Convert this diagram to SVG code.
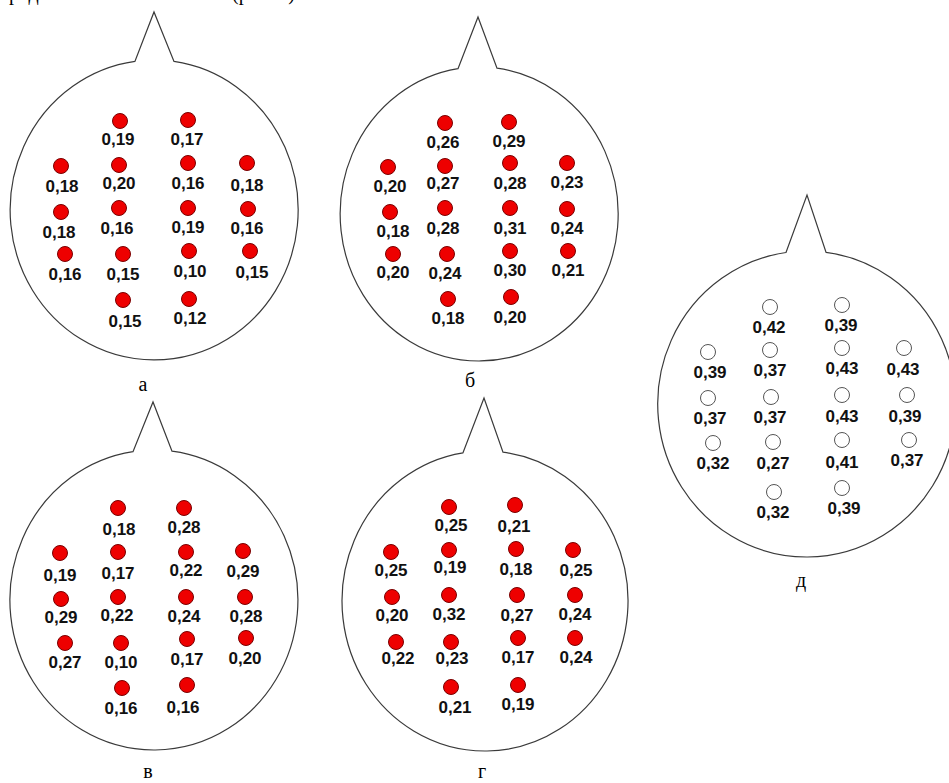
<svg xmlns="http://www.w3.org/2000/svg" width="949" height="783" viewBox="0 0 949 783">
<style>
  .head{fill:#fff;stroke:#3a3a3a;stroke-width:1.2;stroke-linejoin:miter}
  .e{fill:#ee0000;stroke:#7a0000;stroke-width:1}
  .eo{fill:#fff;stroke:#555;stroke-width:1}
  .v{font-family:"Liberation Sans",Arial,sans-serif;font-size:17px;font-weight:bold;fill:#111;text-anchor:middle}
  .cap{font-family:"Liberation Serif","Times New Roman",serif;font-size:20px;fill:#000;text-anchor:middle}
  .top{font-family:"Liberation Serif","Times New Roman",serif;font-size:20px;fill:#000}
</style>
<rect width="949" height="783" fill="#fff"/>

<!-- caption line running off the top edge -->
<text class="top" x="9" y="0">родолжение</text>
<text class="top" x="232" y="0">(рис. 6)</text>

<!-- head а -->
<g id="head-a">
  <path class="head" d="M135 61.3 A144 150 0 1 0 174 61.4 L154 12 Z"/>
  <circle class="e" cx="120" cy="121" r="7.5"/><text class="v" x="118" y="145">0,19</text>
  <circle class="e" cx="188" cy="120" r="7.5"/><text class="v" x="187" y="145">0,17</text>
  <circle class="e" cx="61" cy="166" r="7.5"/><text class="v" x="62" y="192">0,18</text>
  <circle class="e" cx="119" cy="165" r="7.5"/><text class="v" x="119" y="189">0,20</text>
  <circle class="e" cx="188" cy="163" r="7.5"/><text class="v" x="188" y="189">0,16</text>
  <circle class="e" cx="247" cy="163" r="7.5"/><text class="v" x="247" y="191">0,18</text>
  <circle class="e" cx="61" cy="212" r="7.5"/><text class="v" x="59" y="238">0,18</text>
  <circle class="e" cx="119" cy="208" r="7.5"/><text class="v" x="117" y="234">0,16</text>
  <circle class="e" cx="188" cy="208" r="7.5"/><text class="v" x="188" y="233">0,19</text>
  <circle class="e" cx="248" cy="209" r="7.5"/><text class="v" x="247" y="234">0,16</text>
  <circle class="e" cx="65" cy="254" r="7.5"/><text class="v" x="65" y="280">0,16</text>
  <circle class="e" cx="123" cy="254" r="7.5"/><text class="v" x="123" y="280">0,15</text>
  <circle class="e" cx="189" cy="251" r="7.5"/><text class="v" x="190" y="277">0,10</text>
  <circle class="e" cx="250" cy="251" r="7.5"/><text class="v" x="252" y="278">0,15</text>
  <circle class="e" cx="123" cy="300" r="7.5"/><text class="v" x="125" y="327">0,15</text>
  <circle class="e" cx="189" cy="299" r="7.5"/><text class="v" x="190" y="324">0,12</text>
  <text class="cap" x="143" y="391">а</text>
</g>

<!-- head б -->
<g id="head-b">
  <path class="head" d="M458 68.7 A139 147 0 1 0 497 68.2 L478 17 Z"/>
  <circle class="e" cx="445" cy="123" r="7.5"/><text class="v" x="443" y="148">0,26</text>
  <circle class="e" cx="509" cy="122" r="7.5"/><text class="v" x="509" y="147">0,29</text>
  <circle class="e" cx="388" cy="167" r="7.5"/><text class="v" x="390" y="192">0,20</text>
  <circle class="e" cx="445" cy="166" r="7.5"/><text class="v" x="443" y="189">0,27</text>
  <circle class="e" cx="510" cy="163" r="7.5"/><text class="v" x="510" y="189">0,28</text>
  <circle class="e" cx="567" cy="163" r="7.5"/><text class="v" x="567" y="188">0,23</text>
  <circle class="e" cx="390" cy="212" r="7.5"/><text class="v" x="393" y="237">0,18</text>
  <circle class="e" cx="445" cy="208" r="7.5"/><text class="v" x="443" y="234">0,28</text>
  <circle class="e" cx="510" cy="208" r="7.5"/><text class="v" x="510" y="234">0,31</text>
  <circle class="e" cx="567" cy="209" r="7.5"/><text class="v" x="567" y="234">0,24</text>
  <circle class="e" cx="393" cy="254" r="7.5"/><text class="v" x="393" y="278">0,20</text>
  <circle class="e" cx="447" cy="254" r="7.5"/><text class="v" x="445" y="279">0,24</text>
  <circle class="e" cx="510" cy="251" r="7.5"/><text class="v" x="510" y="276">0,30</text>
  <circle class="e" cx="568" cy="251" r="7.5"/><text class="v" x="568" y="276">0,21</text>
  <circle class="e" cx="448" cy="299" r="7.5"/><text class="v" x="448" y="324">0,18</text>
  <circle class="e" cx="511" cy="297" r="7.5"/><text class="v" x="510" y="323">0,20</text>
  <text class="cap" x="470" y="387">б</text>
</g>

<!-- head в -->
<g id="head-v">
  <path class="head" d="M133 451.6 A144 150 0 1 0 172 451.2 L153 402 Z"/>
  <circle class="e" cx="118" cy="508" r="7.5"/><text class="v" x="119" y="535">0,18</text>
  <circle class="e" cx="184" cy="508" r="7.5"/><text class="v" x="184" y="533">0,28</text>
  <circle class="e" cx="60" cy="553" r="7.5"/><text class="v" x="60" y="581">0,19</text>
  <circle class="e" cx="118" cy="552" r="7.5"/><text class="v" x="118" y="579">0,17</text>
  <circle class="e" cx="186" cy="552" r="7.5"/><text class="v" x="186" y="576">0,22</text>
  <circle class="e" cx="243" cy="551" r="7.5"/><text class="v" x="243" y="577">0,29</text>
  <circle class="e" cx="61" cy="599" r="7.5"/><text class="v" x="61" y="623">0,29</text>
  <circle class="e" cx="118" cy="597" r="7.5"/><text class="v" x="117" y="621">0,22</text>
  <circle class="e" cx="186" cy="597" r="7.5"/><text class="v" x="184" y="622">0,24</text>
  <circle class="e" cx="245" cy="597" r="7.5"/><text class="v" x="246" y="622">0,28</text>
  <circle class="e" cx="65" cy="643" r="7.5"/><text class="v" x="65" y="668">0,27</text>
  <circle class="e" cx="121" cy="643" r="7.5"/><text class="v" x="121" y="668">0,10</text>
  <circle class="e" cx="187" cy="639" r="7.5"/><text class="v" x="187" y="665">0,17</text>
  <circle class="e" cx="246" cy="638" r="7.5"/><text class="v" x="245" y="664">0,20</text>
  <circle class="e" cx="122" cy="688" r="7.5"/><text class="v" x="121" y="714">0,16</text>
  <circle class="e" cx="187" cy="685" r="7.5"/><text class="v" x="183" y="713">0,16</text>
  <text class="cap" x="148" y="778">в</text>
</g>

<!-- head г -->
<g id="head-g">
  <path class="head" d="M463 452.8 A143 150 0 1 0 503 452.2 L484 398 Z"/>
  <circle class="e" cx="449" cy="507" r="7.5"/><text class="v" x="451" y="531">0,25</text>
  <circle class="e" cx="515" cy="505" r="7.5"/><text class="v" x="514" y="532">0,21</text>
  <circle class="e" cx="391" cy="552" r="7.5"/><text class="v" x="391" y="576">0,25</text>
  <circle class="e" cx="449" cy="550" r="7.5"/><text class="v" x="450" y="573">0,19</text>
  <circle class="e" cx="516" cy="549" r="7.5"/><text class="v" x="516" y="575">0,18</text>
  <circle class="e" cx="573" cy="550" r="7.5"/><text class="v" x="576" y="576">0,25</text>
  <circle class="e" cx="392" cy="597" r="7.5"/><text class="v" x="392" y="621">0,20</text>
  <circle class="e" cx="449" cy="595" r="7.5"/><text class="v" x="449" y="620">0,32</text>
  <circle class="e" cx="517" cy="595" r="7.5"/><text class="v" x="517" y="621">0,27</text>
  <circle class="e" cx="575" cy="595" r="7.5"/><text class="v" x="575" y="620">0,24</text>
  <circle class="e" cx="396" cy="642" r="7.5"/><text class="v" x="398" y="664">0,22</text>
  <circle class="e" cx="451" cy="642" r="7.5"/><text class="v" x="452" y="664">0,23</text>
  <circle class="e" cx="518" cy="638" r="7.5"/><text class="v" x="518" y="663">0,17</text>
  <circle class="e" cx="575" cy="638" r="7.5"/><text class="v" x="576" y="663">0,24</text>
  <circle class="e" cx="451" cy="687" r="7.5"/><text class="v" x="455" y="713">0,21</text>
  <circle class="e" cx="518" cy="685" r="7.5"/><text class="v" x="518" y="710">0,19</text>
  <text class="cap" x="482" y="778">г</text>
</g>

<!-- head д (empty electrodes) -->
<g id="head-d">
  <path class="head" d="M786 252.5 A149 153 0 1 0 826 252.3 L807 195 Z"/>
  <circle class="eo" cx="770" cy="307" r="7.5"/><text class="v" x="769" y="333">0,42</text>
  <circle class="eo" cx="842" cy="305" r="7.5"/><text class="v" x="841" y="331">0,39</text>
  <circle class="eo" cx="708" cy="352" r="7.5"/><text class="v" x="710" y="378">0,39</text>
  <circle class="eo" cx="770" cy="350" r="7.5"/><text class="v" x="770" y="376">0,37</text>
  <circle class="eo" cx="842" cy="348" r="7.5"/><text class="v" x="842" y="374">0,43</text>
  <circle class="eo" cx="904" cy="348" r="7.5"/><text class="v" x="903" y="375">0,43</text>
  <circle class="eo" cx="708" cy="398" r="7.5"/><text class="v" x="710" y="424">0,37</text>
  <circle class="eo" cx="771" cy="397" r="7.5"/><text class="v" x="770" y="423">0,37</text>
  <circle class="eo" cx="842" cy="395" r="7.5"/><text class="v" x="842" y="422">0,43</text>
  <circle class="eo" cx="907" cy="395" r="7.5"/><text class="v" x="905" y="422">0,39</text>
  <circle class="eo" cx="713" cy="443" r="7.5"/><text class="v" x="713" y="469">0,32</text>
  <circle class="eo" cx="773" cy="442" r="7.5"/><text class="v" x="773" y="469">0,27</text>
  <circle class="eo" cx="842" cy="440" r="7.5"/><text class="v" x="842" y="468">0,41</text>
  <circle class="eo" cx="909" cy="440" r="7.5"/><text class="v" x="907" y="466">0,37</text>
  <circle class="eo" cx="774" cy="492" r="7.5"/><text class="v" x="773" y="518">0,32</text>
  <circle class="eo" cx="842" cy="488" r="7.5"/><text class="v" x="844" y="514">0,39</text>
  <text class="cap" x="801" y="587">д</text>
</g>
</svg>
